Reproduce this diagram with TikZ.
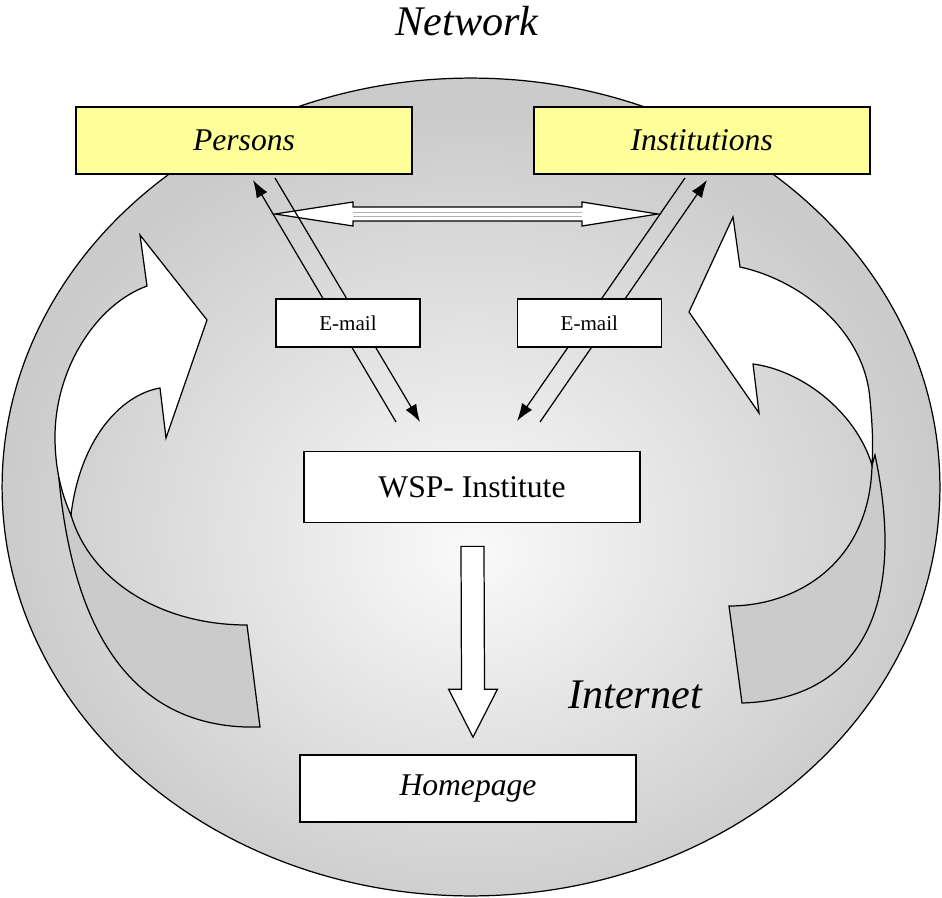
\documentclass[tikz,border=0pt]{standalone}
\usepackage{fontspec}
\setmainfont{Liberation Serif}
\usetikzlibrary{positioning}
\usetikzlibrary{calc}
\usetikzlibrary{arrows.meta}
\definecolor{boxyellow}{RGB}{255,255,153}
\definecolor{netgray}{RGB}{203,203,203}
\definecolor{netlight}{RGB}{248,248,248}
\pgfdeclareradialshading{netshade}{\pgfpoint{0bp}{-4bp}}{color(0bp)=(netlight); color(1bp)=(netlight); color(25bp)=(netgray); color(50bp)=(netgray)}

\begin{document}
\begin{tikzpicture}[x=0.02cm, y=-0.02cm, line width=0.7pt,
        every node/.style={align=center, inner sep=0pt},
        namebox/.style={draw, line width=1pt, fill=boxyellow, minimum width=6.72cm, minimum height=1.34cm, font=\fontsize{18}{22}\selectfont\itshape},
        mailbox/.style={draw, line width=0.8pt, fill=white, minimum width=2.88cm, minimum height=0.96cm, font=\fontsize{12}{14}\selectfont},
        mainbox/.style={draw, line width=1pt, fill=white, minimum width=6.72cm, minimum height=1.42cm, font=\fontsize{18}{22}\selectfont},
        bigtext/.style={font=\fontsize{24}{28}\selectfont\itshape},
        fatarrow/.style={draw, fill=white, line join=miter},
        turnband/.style={draw, fill=netgray},
        turnhead/.style={draw, fill=white, line join=miter},
        mailarrow/.style={-{Latex[length=10pt, width=7pt]}}]

        \useasboundingbox (0,0) rectangle (942,898);

        % Network ellipse
        \shadedraw[shading=netshade] (471,487) ellipse [x radius=9.38cm, y radius=8.18cm];

        % Left turning arrow
        \draw[turnband] (71,515) .. controls (90,580) and (160,625) .. (247,625) -- (260,727)
            .. controls (160,730) and (70,670) .. (57,453) -- cycle;
        \draw[turnhead] (147,286) .. controls (95,305) and (55,370) .. (55,437) .. controls (55,470) and (62,495) .. (71,515)
            .. controls (80,440) and (120,395) .. (160,388) -- (166,438) -- (207,320) -- (140,235) -- cycle;

        % Right turning arrow
        \draw[turnband] (872,465) .. controls (870,560) and (800,606) .. (729,606) -- (742,703)
            .. controls (850,700) and (910,620) .. (875,455) -- cycle;
        \draw[turnhead] (740,267) .. controls (800,280) and (865,330) .. (870,400) .. controls (873,430) and (873,450) .. (872,465)
            .. controls (855,410) and (800,370) .. (753,364) -- (759,413) -- (689,312) -- (733,217) -- cycle;

        % Link between persons and institutions
        \coordinate (linkL) at (275,214);
        \coordinate (linkR) at (658,214);
        \draw[fatarrow] (linkL) -- ($(linkL)+(78,-12)$) -- ($(linkL)+(78,-7)$) -- ($(linkR)+(-76,-7)$) -- ($(linkR)+(-76,-12)$)
            -- (linkR) -- ($(linkR)+(-76,12)$) -- ($(linkR)+(-76,7)$) -- ($(linkL)+(78,7)$) -- ($(linkL)+(78,12)$) -- cycle;
        \draw[gray!60, line width=0.4pt] ($(linkL)+(78,-2)$) -- ($(linkR)+(-76,-2)$);
        \draw[gray!60, line width=0.4pt] ($(linkL)+(78,2)$) -- ($(linkR)+(-76,2)$);

        % E-mail arrows
        \coordinate (pA) at (253,180);
        \coordinate (pB) at (275,178);
        \coordinate (wA) at (396,422);
        \coordinate (wB) at (420,422);
        \coordinate (iA) at (685,178);
        \coordinate (iB) at (707,180);
        \coordinate (wC) at (517,421);
        \coordinate (wD) at (540,422);
        \draw[mailarrow] (wA) -- (pA);
        \draw[mailarrow] (pB) -- (wB);
        \draw[mailarrow] (iA) -- (wC);
        \draw[mailarrow] (wD) -- (iB);

        % Boxes
        \node[namebox] (persons) at (244,140.5) {Persons};
        \node[namebox, right=2.4cm of persons] (institutions) {Institutions};
        \node[mailbox] (mailL) at (348,323) {E-mail};
        \node[mailbox, right=1.92cm of mailL] (mailR) {E-mail};
        \node[mainbox] (wsp) at (472,487) {WSP- Institute};
        \node[mainbox, minimum height=1.34cm, font=\fontsize{18}{22}\selectfont\itshape] (homepage) at (468,788.5) {Homepage};

        % Labels
        \node[bigtext, anchor=base] (network) at (467,36) {Network};
        \node[bigtext, anchor=base] (internet) at (635,708) {Internet};

        % WSP to homepage
        \coordinate (dnTop) at ($(wsp.south)+(0.5,23)$);
        \coordinate (dnTip) at ($(homepage.north)+(5,-17)$);
        \draw[fatarrow] ($(dnTop)+(-11.5,0)$) -- ($(dnTop)+(11.5,0)$) -- ($(dnTip)+(11.5,-48)$) -- ($(dnTip)+(24.5,-48)$)
            -- (dnTip) -- ($(dnTip)+(-24.5,-48)$) -- ($(dnTip)+(-11.5,-48)$) -- cycle;

    \end{tikzpicture}
\end{document}
